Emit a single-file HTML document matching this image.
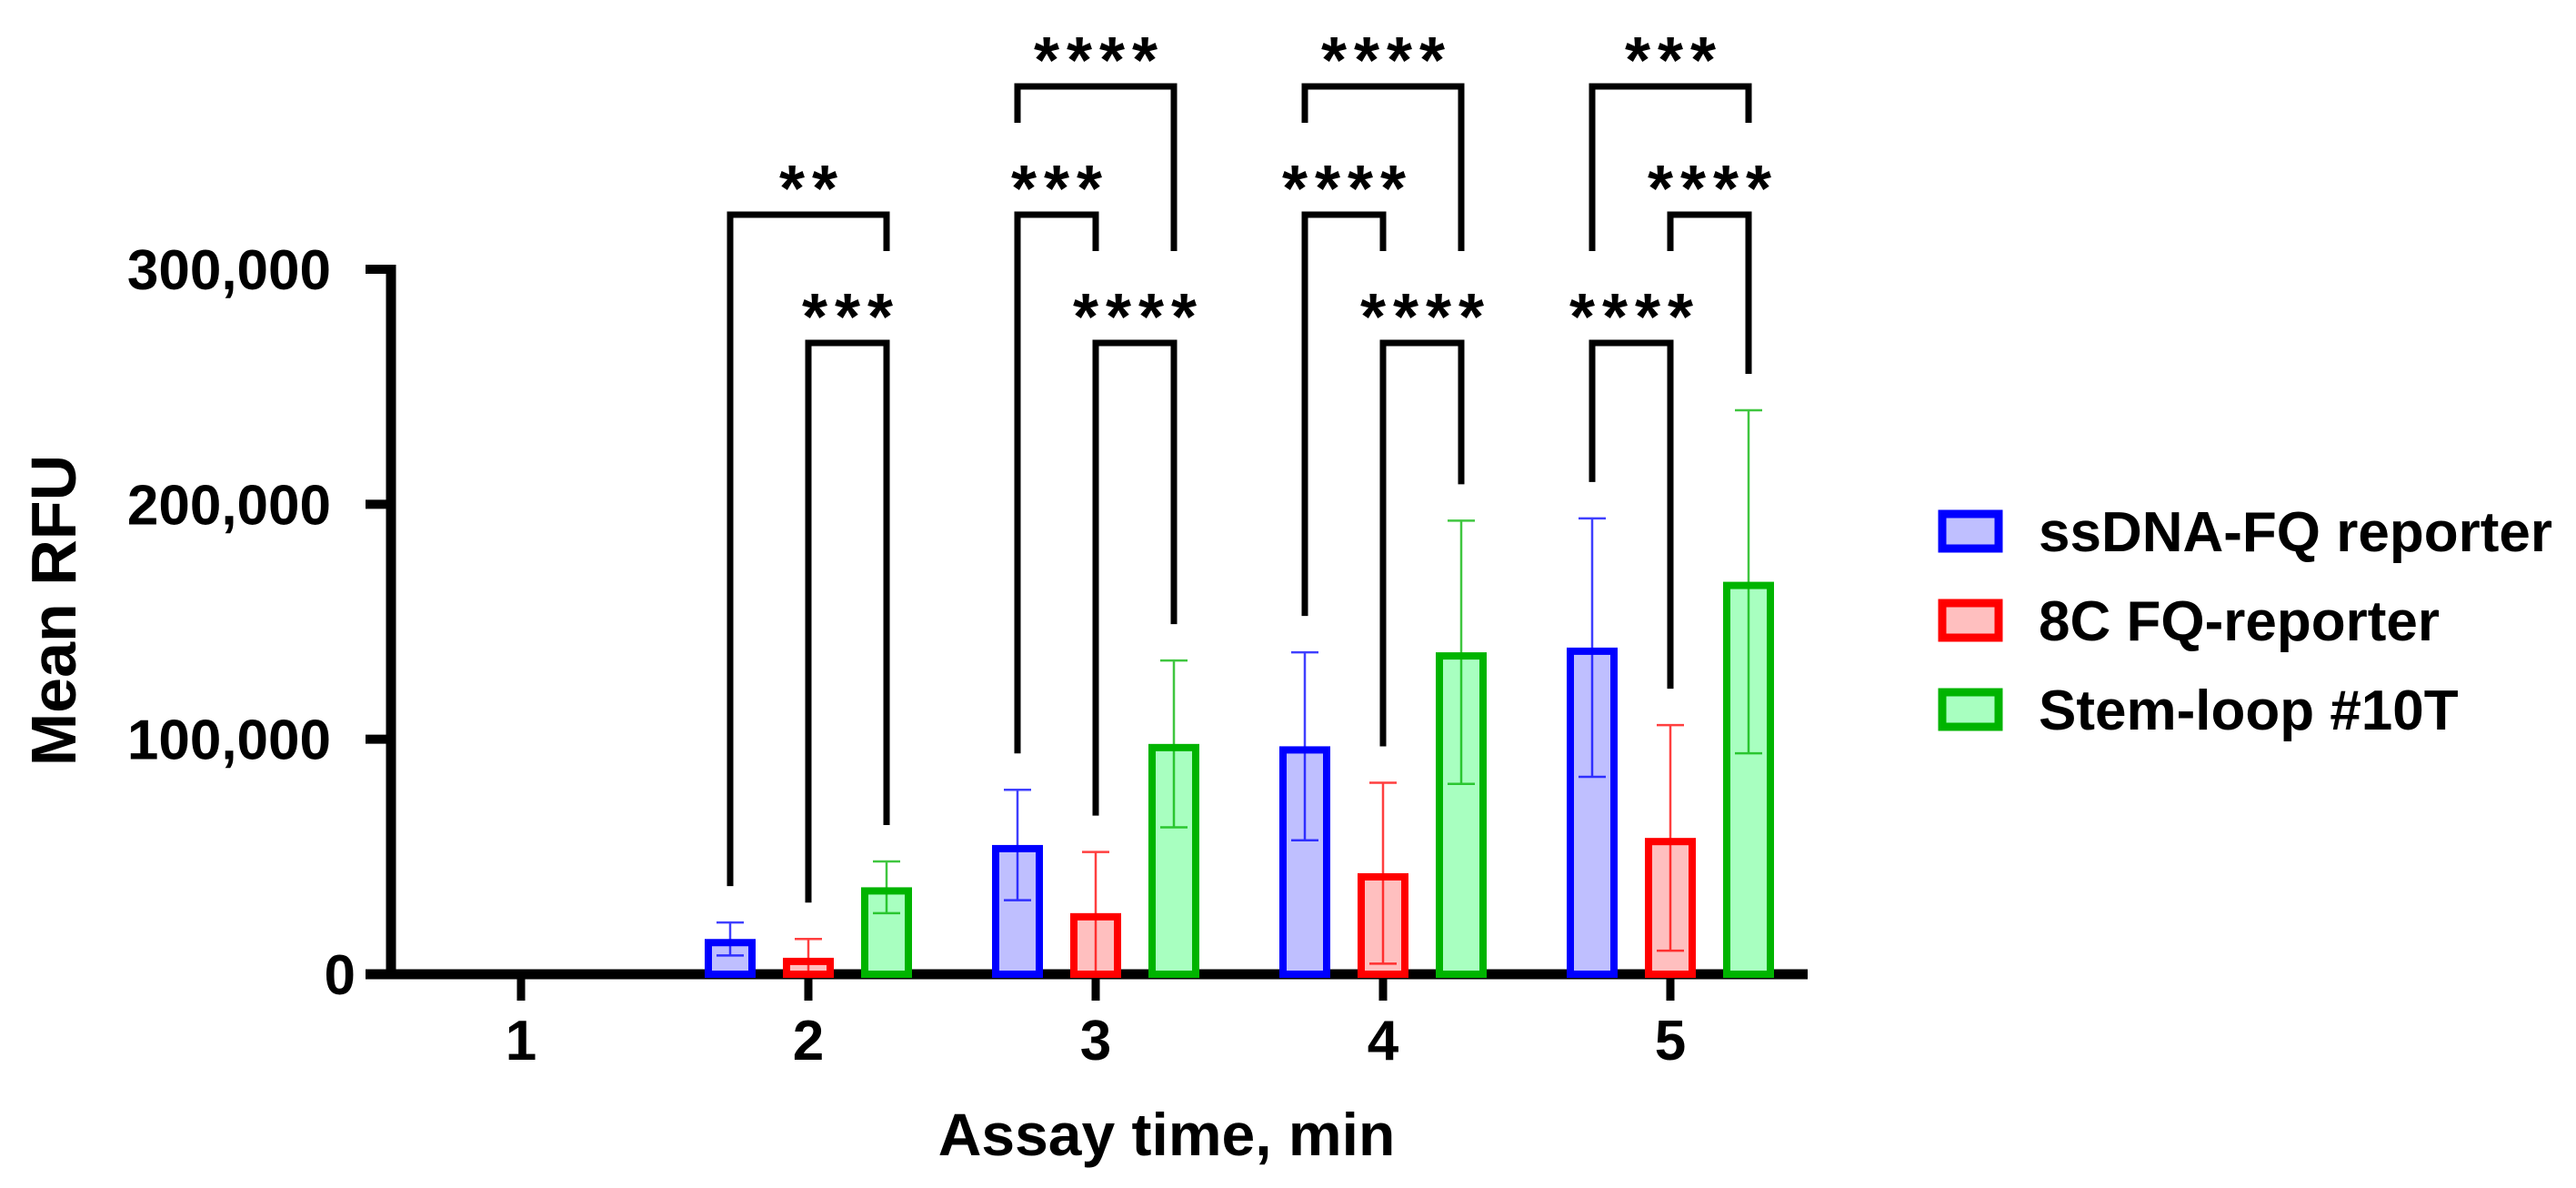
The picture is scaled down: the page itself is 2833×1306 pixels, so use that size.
<!DOCTYPE html>
<html><head><meta charset="utf-8"><style>
html,body{margin:0;padding:0;background:#fff;}
svg{display:block;font-family:"Liberation Sans",Arial,sans-serif;font-weight:bold;}
</style></head><body>
<svg id="chart" width="2833" height="1306" viewBox="0 0 2833 1306" xmlns="http://www.w3.org/2000/svg">
<text transform="translate(83,671) rotate(-90)" text-anchor="middle" font-size="70">Mean RFU</text>
<text x="1283" y="1270" text-anchor="middle" font-size="66">Assay time, min</text>
<g id="legend"></g>
</svg>
<script>
const categories = ["1","2","3","4","5"];
const seriesNames = ["ssDNA-FQ reporter","8C FQ-reporter","Stem-loop #10T"];
const blueMeans = [0, 15000, 55000, 97000, 139000];
const blueSD = [0, 7000, 23500, 40000, 55000];
const redMeans = [0, 7000, 26000, 43000, 58000];
const redSD = [0, 8000, 26000, 38500, 48000];
const greenMeans = [0, 37000, 98000, 137000, 167000];
const greenSD = [0, 11000, 35500, 56000, 73000];
const yTicks = [0, 100000, 200000, 300000];
const yTickLabels = ["0","100,000","200,000","300,000"];
// brackets: group index, series a, series b, level, stars
const bracketGroups = [1,1,2,2,2,3,3,3,4,4,4];
const bracketFrom = [0,1,0,0,1,0,0,1,0,1,0];
const bracketTo = [2,2,2,1,2,2,1,2,2,2,1];
const bracketLevel = [1,2,0,1,2,0,1,2,0,1,2];
const bracketStars = ["**","***","****","***","****","****","****","****","***","****","****"];

const means=[blueMeans,redMeans,greenMeans], sds=[blueSD,redSD,greenSD];
const strokes=["#0000ff","#ff0000","#00b400"], fills=["#bfbfff","#ffbfbf","#a8ffc0"];
const NS="http://www.w3.org/2000/svg";
const svg=document.getElementById('chart');
const X0=573, DX=316, OFF=[-86,0,86], BW=56;
const Y0=1071, YTOP=296, YMAX=300000;
const levelY=[95,236,377];
function xCat(i){return X0+i*DX;}
function xBar(i,s){return xCat(i)+OFF[s];}
function yVal(v){return Y0-(v/YMAX)*(Y0-YTOP);}
function mk(tag,attrs,parent){const e=document.createElementNS(NS,tag);for(const k in attrs)e.setAttribute(k,attrs[k]);(parent||svg).appendChild(e);return e;}

const ya=mk('line',{x1:430,y1:YTOP-5,x2:430,y2:Y0+5,stroke:'#000','stroke-width':11});


const xa=mk('line',{x1:402,y1:Y0,x2:1988,y2:Y0,stroke:'#000','stroke-width':11});


yTicks.forEach((t,i)=>{
  const y=yVal(t);
  const tk=mk('line',{x1:402,y1:y,x2:430,y2:y,stroke:'#000','stroke-width':10});
  
  
  const lb=mk('text',{x:t===0?391:364,y:y+22,'text-anchor':'end','font-size':62});
  lb.textContent=yTickLabels[i];
  
  
});
categories.forEach((c,i)=>{
  const x=xCat(i);
  const tk=mk('line',{x1:x,y1:Y0,x2:x,y2:1100,stroke:'#000','stroke-width':9});
  
  
  const lb=mk('text',{x:x,y:1165,'text-anchor':'middle','font-size':62});
  lb.textContent=c;
  
  
});
categories.forEach((c,i)=>{
  for(let s=0;s<3;s++){
    const v=means[s][i]; if(v<=0) continue;
    const x=xBar(i,s), y=yVal(v);
    const r=mk('rect',{x:x-BW/2+4,y:y+4,width:BW-8,height:Y0-y-4,fill:fills[s],stroke:strokes[s],'stroke-width':8});
    
    
    const sd=sds[s][i];
    const g=mk('g',{stroke:strokes[s],'stroke-width':2.5,opacity:0.75});
    
    
    const yt=yVal(v+sd), yb=yVal(Math.max(0,v-sd));
    mk('line',{x1:x,y1:yt,x2:x,y2:yb},g);
    mk('line',{x1:x-15,y1:yt,x2:x+15,y2:yt},g);
    mk('line',{x1:x-15,y1:yb,x2:x+15,y2:yb},g);
  }
});
function dropEnd(k,s){
  const gi=bracketGroups[k], lv=bracketLevel[k];
  let best=null;
  bracketGroups.forEach((g2,j)=>{
    if(g2!==gi||j===k) return;
    if(bracketLevel[j]<=lv) return;
    if(bracketFrom[j]!==s&&bracketTo[j]!==s) return;
    if(best===null||bracketLevel[j]<best) best=bracketLevel[j];
  });
  if(best!==null) return levelY[best]-101;
  return yVal(means[s][gi]+sds[s][gi])-40;
}
bracketGroups.forEach((gi,k)=>{
  const a=bracketFrom[k], b=bracketTo[k];
  const xa_=xBar(gi,a), xb=xBar(gi,b), y=levelY[bracketLevel[k]];
  const p=mk('path',{d:`M${xa_},${dropEnd(k,a)}V${y}H${xb}V${dropEnd(k,b)}`,fill:'none',stroke:'#000','stroke-width':7});
  
  
  const t=mk('text',{x:(xa_+xb)/2+4,y:y-4,'text-anchor':'middle','font-size':72,'letter-spacing':8});
  t.textContent=bracketStars[k];
  
  
});
const lg=document.getElementById('legend');
const legY=[584,682,780];
seriesNames.forEach((n,s)=>{
  const r=mk('rect',{x:2136,y:legY[s]-19,width:62,height:38,fill:fills[s],stroke:strokes[s],'stroke-width':9},lg);
  
  
  const t=mk('text',{x:2242,y:legY[s]+22,'font-size':62},lg);
  t.textContent=n;
  
  
});
</script>
</body></html>
